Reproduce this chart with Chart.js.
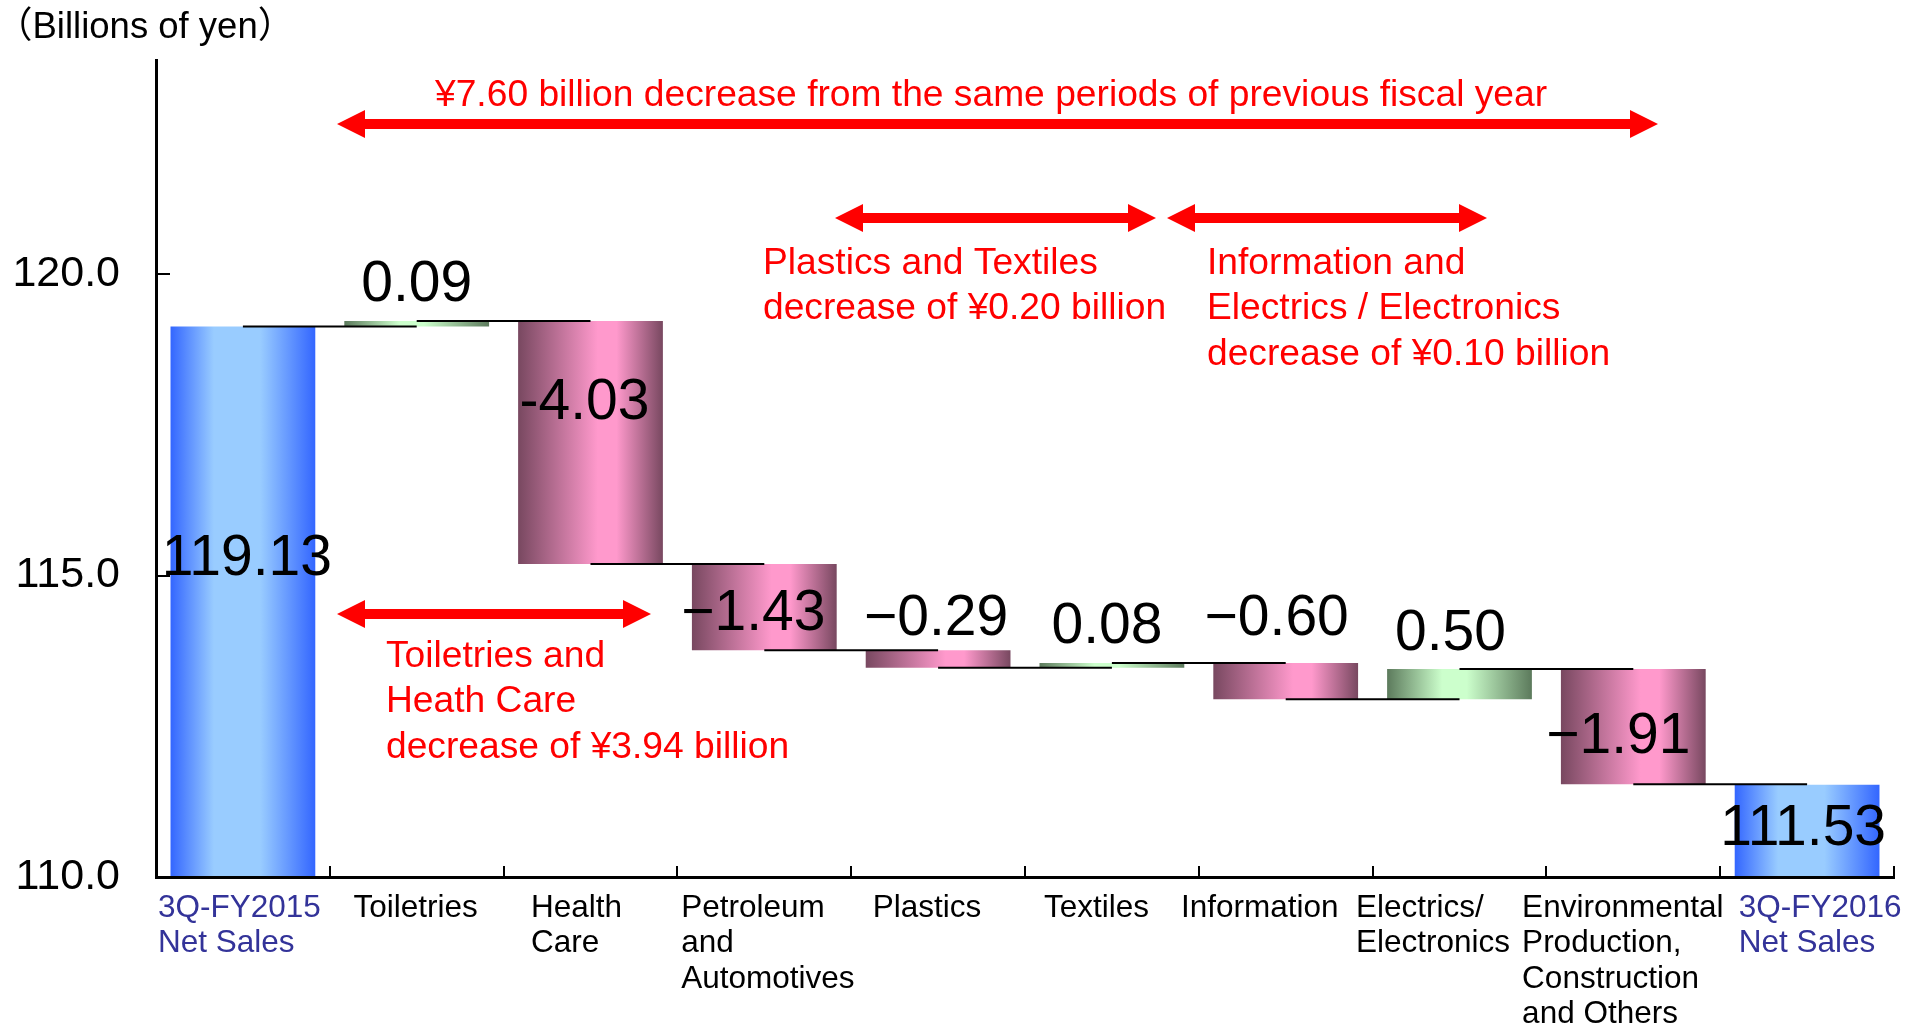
<!DOCTYPE html>
<html>
<head>
<meta charset="utf-8">
<title>Net Sales Bridge</title>
<script src="https://cdn.jsdelivr.net/npm/chart.js@4.4.1/dist/chart.umd.min.js"></script>
<style>
  html, body { margin: 0; padding: 0; background: #fff; }
  #wrap { width: 1923px; height: 1029px; }
</style>
</head>
<body>
<div id="wrap"><canvas id="bridgeChart" width="1923" height="1029"></canvas></div>
<script>
// Net sales bridge by segment (billions of yen)
const startLabel = ['3Q-FY2015', 'Net Sales'];
const endLabel = ['3Q-FY2016', 'Net Sales'];
const segmentLabels = [
    ['Toiletries'],
    ['Health', 'Care'],
    ['Petroleum', 'and', 'Automotives'],
    ['Plastics'],
    ['Textiles'],
    ['Information'],
    ['Electrics/', 'Electronics'],
    ['Environmental', 'Production,', 'Construction', 'and Others']
];
const startTotal = 119.13;
const endTotal = 111.53;
const segmentChanges = [0.09, -4.03, -1.43, -0.29, 0.08, -0.60, 0.50, -1.91];
const yMin = 110;
const yMax = 123.55;
const yStep = 5;

// label tweaks (px): value labels and category label blocks
const labelNudge = [[4, -47], [0, -2], [-6, -43.5], [-11, 2], [-2, 2.4], [-5, -1.8], [-9, -10], [-9, -1.3], [-15, 5.7], [-4, -5.8]];
const tickNudge = [-3.5, -1, -14, 3.5, -11, -15.5, -26, -26.5, -10.5, 13];
const hyphenLabels = [2]; // the Health Care figure is printed with a plain hyphen

const FONT = '"Liberation Sans", Arial, sans-serif';

const categories = [startLabel, ...segmentLabels, endLabel];
const values = [startTotal, ...segmentChanges, endTotal];

// running level after each bar
const levels = [startTotal];
segmentChanges.forEach(c => levels.push(+(levels[levels.length - 1] + c).toFixed(2)));

const barData = [startTotal];
segmentChanges.forEach((c, i) => barData.push([levels[i], levels[i + 1]]));
barData.push(endTotal);

const kinds = values.map((v, i) => {
    if (i === 0 || i === values.length - 1) return 'total';
    return v >= 0 ? 'up' : 'down';
});

const fills = {
    total: { stops: [0, 0.3, 0.62, 1], colors: ['#3366ff', '#99ccff', '#99ccff', '#3366ff'] },
    up:    { stops: [0, 0.38, 0.55, 1], colors: ['#5c7a5c', '#ccffcc', '#ccffcc', '#5c7a5c'] },
    down:  { stops: [0, 0.55, 0.68, 1], colors: ['#784860', '#ff99cc', '#ff99cc', '#784860'] }
};

const BAR_PCT = 0.833;

function barFill(context) {
    const chart = context.chart;
    const xs = chart.scales.x;
    const f = fills[kinds[context.dataIndex]];
    if (!xs || !chart.chartArea) return f.colors[1];
    const cx = xs.getPixelForValue(context.dataIndex);
    const half = (xs.width / categories.length) * BAR_PCT / 2;
    const g = chart.ctx.createLinearGradient(cx - half, 0, cx + half, 0);
    f.stops.forEach((s, k) => g.addColorStop(s, f.colors[k]));
    return g;
}

function formatValue(v, i) {
    const body = Math.abs(v).toFixed(2);
    if (v >= 0) return body;
    return (hyphenLabels.includes(i) ? '-' : '\u2212') + body;
}

// red arrows with their notes
const notes = [
    { from: 337, to: 1658, y: 124, textX: 435, textY: 106, lines: ['¥7.60 billion decrease from the same periods of previous fiscal year'] },
    { from: 337, to: 651, y: 614, textX: 386, textY: 667, lines: ['Toiletries and', 'Heath Care', 'decrease of ¥3.94 billion'] },
    { from: 835, to: 1156, y: 218, textX: 763, textY: 274, lines: ['Plastics and Textiles', 'decrease of ¥0.20 billion'] },
    { from: 1167, to: 1487, y: 218, textX: 1207, textY: 274, lines: ['Information and', 'Electrics / Electronics', 'decrease of ¥0.10 billion'] }
];

function drawArrow(ctx, x1, x2, y) {
    const head = 28, half = 14, shaft = 5;
    ctx.beginPath();
    ctx.moveTo(x1, y);
    ctx.lineTo(x1 + head, y - half);
    ctx.lineTo(x1 + head, y - shaft);
    ctx.lineTo(x2 - head, y - shaft);
    ctx.lineTo(x2 - head, y - half);
    ctx.lineTo(x2, y);
    ctx.lineTo(x2 - head, y + half);
    ctx.lineTo(x2 - head, y + shaft);
    ctx.lineTo(x1 + head, y + shaft);
    ctx.lineTo(x1 + head, y + half);
    ctx.closePath();
    ctx.fill();
}

const connectorPlugin = {
    id: 'connectors',
    afterDatasetsDraw(chart) {
        const { ctx, scales: { x, y } } = chart;
        ctx.save();
        ctx.strokeStyle = '#000';
        ctx.lineWidth = 2;
        for (let i = 0; i < categories.length - 1; i++) {
            const py = y.getPixelForValue(levels[i]);
            ctx.beginPath();
            ctx.moveTo(x.getPixelForValue(i), py);
            ctx.lineTo(x.getPixelForValue(i + 1), py);
            ctx.stroke();
        }
        ctx.restore();
    }
};

const valueLabelPlugin = {
    id: 'valueLabels',
    afterDatasetsDraw(chart) {
        const { ctx } = chart;
        const meta = chart.getDatasetMeta(0);
        ctx.save();
        ctx.font = '57px ' + FONT;
        ctx.fillStyle = '#000';
        ctx.textAlign = 'center';
        ctx.textBaseline = 'alphabetic';
        meta.data.forEach((bar, i) => {
            const { x, y, base } = bar.getProps(['x', 'y', 'base'], true);
            const top = Math.min(y, base), bottom = Math.max(y, base);
            const inside = kinds[i] === 'total' || Math.abs(values[i]) >= 1;
            const by = inside ? (top + bottom) / 2 + 20.4 : top - 18;
            ctx.fillText(formatValue(values[i], i), x + labelNudge[i][0], by + labelNudge[i][1]);
        });
        ctx.restore();
    }
};

const textPlugin = {
    id: 'annotations',
    afterDraw(chart) {
        const { ctx, scales: { x } } = chart;
        ctx.save();

        // axis unit
        ctx.fillStyle = '#000';
        ctx.font = '36.5px ' + FONT + ', "Noto Sans CJK JP"';
        ctx.textAlign = 'left';
        ctx.fillText('（Billions of yen）', -4, 38);

        // category names, left-aligned blocks under each bar
        ctx.font = '31.5px ' + FONT;
        categories.forEach((lines, i) => {
            const w = Math.max(...lines.map(t => ctx.measureText(t).width));
            const left = x.getPixelForValue(i) - w / 2 + tickNudge[i];
            ctx.fillStyle = kinds[i] === 'total' ? '#333399' : '#000';
            lines.forEach((t, k) => ctx.fillText(t, left, 917 + k * 35.4));
        });

        // red arrows and notes
        ctx.fillStyle = '#ff0000';
        ctx.font = '37.2px ' + FONT;
        notes.forEach(n => {
            drawArrow(ctx, n.from, n.to, n.y);
            n.lines.forEach((t, k) => ctx.fillText(t, n.textX, n.textY + k * 45.4));
        });
        ctx.restore();
    }
};

const ctx = document.getElementById('bridgeChart').getContext('2d');
new Chart(ctx, {
    type: 'bar',
    data: {
        labels: categories.map(l => l.join(' ')),
        datasets: [{
            data: barData,
            base: yMin,
            backgroundColor: barFill,
            borderWidth: 0,
            categoryPercentage: 1,
            barPercentage: BAR_PCT
        }]
    },
    options: {
        responsive: false,
        animation: false,
        layout: { padding: { top: 60, right: 29, left: 0, bottom: 0 } },
        plugins: {
            legend: { display: false },
            tooltip: { enabled: false }
        },
        scales: {
            x: {
                z: 1,
                grid: { offset: true, drawOnChartArea: false, color: '#000', lineWidth: 2, tickLength: -11 },
                border: { color: '#000', width: 3 },
                ticks: { display: false },
                afterFit: s => {
                    s.height = 152;
                    s.paddingLeft = 0;
                    s.paddingRight = 0;
                }
            },
            y: {
                z: 1,
                min: yMin,
                max: yMax,
                grid: { drawOnChartArea: false, color: '#000', lineWidth: 2, tickLength: -14 },
                border: { color: '#000', width: 3 },
                ticks: {
                    stepSize: yStep,
                    includeBounds: false,
                    padding: 50,
                    color: '#000',
                    font: { family: FONT, size: 43 },
                    callback: v => v.toFixed(1)
                },
                afterFit: s => {
                    s.width = 156;
                    s.paddingTop = 0;
                    s.paddingBottom = 0;
                }
            }
        }
    },
    plugins: [connectorPlugin, valueLabelPlugin, textPlugin]
});
</script>
</body>
</html>
